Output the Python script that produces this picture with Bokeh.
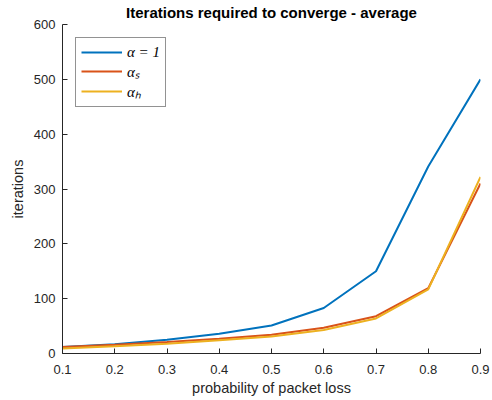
from bokeh.plotting import figure
from bokeh.models import Range1d, FixedTicker, Legend, LegendItem
from bokeh.embed import file_html
from bokeh.resources import INLINE

# ---- data ----
prob_loss = [0.1, 0.2, 0.3, 0.4, 0.5, 0.6, 0.7, 0.8, 0.9]
iters_alpha_1 = [12, 17, 25, 36, 51, 83, 150, 341, 500]
iters_alpha_s = [12, 16, 21, 27, 34, 47, 68, 119, 310]
iters_alpha_h = [9, 13, 18, 24, 31, 43, 64, 117, 322]
x_ticks = [0.1, 0.2, 0.3, 0.4, 0.5, 0.6, 0.7, 0.8, 0.9]
y_ticks = [0, 100, 200, 300, 400, 500, 600]
series_labels = ["α = 1", "αₛ", "αₕ"]
title_text = "Iterations required to converge - average"
x_label = "probability of packet loss"
y_label = "iterations"

INK = "#262626"
FONT = "Liberation Sans"

p = figure(width=492, height=400,
           x_range=Range1d(0.1, 0.9), y_range=Range1d(0, 600),
           output_backend="svg", toolbar_location=None,
           min_border_left=62, min_border_right=12,
           min_border_top=24, min_border_bottom=47)
p.outline_line_color = None
p.grid.visible = False
p.background_fill_color = "white"
p.border_fill_color = "white"

p.title.text = title_text
p.title.text_font = FONT
p.title.text_font_size = "15px"
p.title.text_font_style = "bold"
p.title.text_color = "black"
p.title.align = "center"
p.title.vertical_align = "top"
p.title.standoff = 4

r1 = p.line(prob_loss, iters_alpha_1, line_color="#0072BD", line_width=2)
r2 = p.line(prob_loss, iters_alpha_s, line_color="#D95319", line_width=2)
r3 = p.line(prob_loss, iters_alpha_h, line_color="#EDB120", line_width=2)

p.xaxis.ticker = FixedTicker(ticks=x_ticks)
p.yaxis.ticker = FixedTicker(ticks=y_ticks)
for ax in (p.xaxis, p.yaxis):
    ax.axis_line_color = INK
    ax.axis_line_width = 1
    ax.major_tick_line_color = INK
    ax.major_tick_in = 5
    ax.major_tick_out = 0
    ax.minor_tick_line_color = None
    ax.major_label_text_font = FONT
    ax.major_label_text_font_size = "13px"
    ax.major_label_text_color = INK
    ax.axis_label_text_font = FONT
    ax.axis_label_text_font_size = "14.5px"
    ax.axis_label_text_font_style = "normal"
    ax.axis_label_text_color = INK

p.xaxis.axis_label = x_label
p.yaxis.axis_label = y_label
p.xaxis.major_label_standoff = 11
p.xaxis.axis_label_standoff = 3
p.yaxis.major_label_standoff = 7
p.yaxis.axis_label_standoff = 5

legend = Legend(items=[LegendItem(label=series_labels[0], renderers=[r1]),
                       LegendItem(label=series_labels[1], renderers=[r2]),
                       LegendItem(label=series_labels[2], renderers=[r3])],
                location="top_left", margin=13, padding=5, spacing=-1,
                glyph_width=41, glyph_height=18, label_height=18,
                label_standoff=5,
                label_text_font="Liberation Serif", label_text_font_style="italic",
                label_text_font_size="15px", label_text_color="black",
                border_line_color=INK, border_line_width=1,
                background_fill_color="white", background_fill_alpha=1)
p.add_layout(legend)

open("out.html", "w").write(file_html(p, INLINE))
